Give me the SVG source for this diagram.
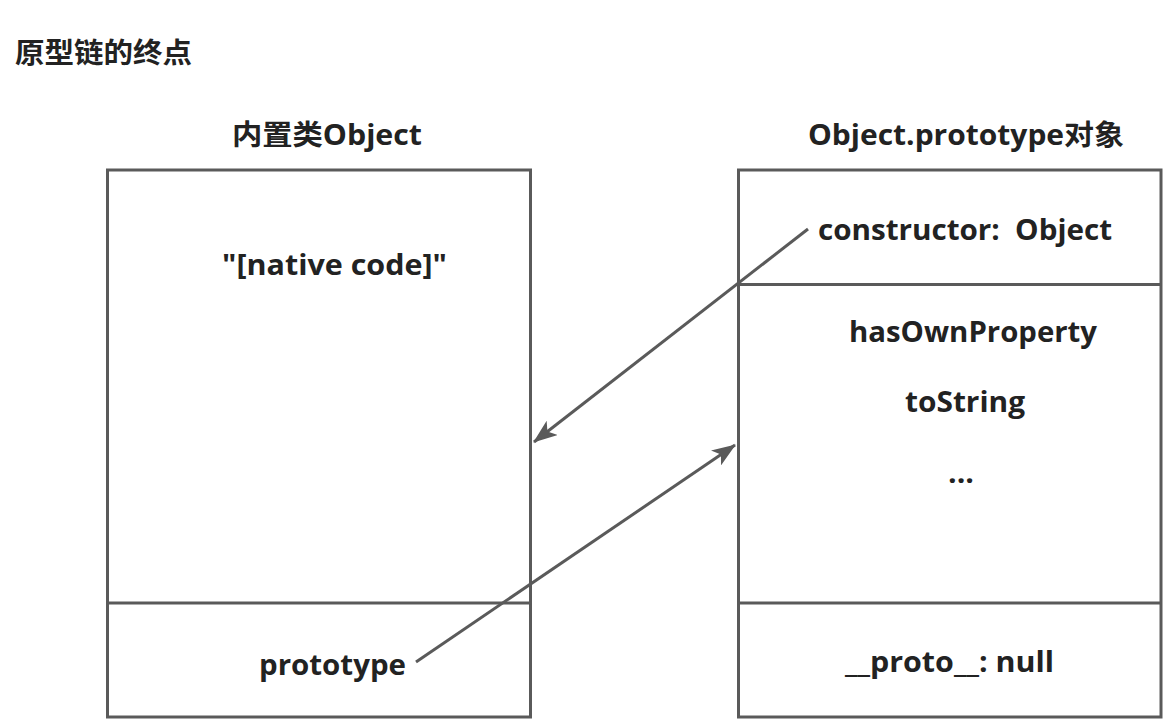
<svg xmlns="http://www.w3.org/2000/svg" width="1174" height="724" viewBox="0 0 1174 724">
<style>
.box{fill:none;stroke:#5a5a5a;stroke-width:3}
.t{font-family:"Open Sans","Noto Sans CJK SC","Liberation Sans",sans-serif;font-weight:bold;fill:#222;font-size:28px}
.c{stroke:#5a5a5a;stroke-width:3;fill:none}
</style>
<defs>
<marker id="ah" viewBox="0 0 24 18" refX="23" refY="9" markerWidth="24" markerHeight="18" markerUnits="userSpaceOnUse" orient="auto">
<path d="M0,0 L24,9 L0,18 L6,9 Z" fill="#5a5a5a"/>
</marker>
</defs>
<rect width="1174" height="724" fill="#fff"/>
<text class="t" x="15" y="63" textLength="177" lengthAdjust="spacingAndGlyphs">原型链的终点</text>
<g id="object-class">
<text class="t" x="232" y="145" textLength="190" lengthAdjust="spacingAndGlyphs">内置类Object</text>
<rect class="box" x="107.5" y="170" width="423" height="547"/>
<line class="box" x1="107.5" y1="603" x2="530.5" y2="603"/>
<text class="t" x="222" y="275" textLength="225" lengthAdjust="spacingAndGlyphs">"[native code]"</text>
<text class="t" x="259" y="675" textLength="147" lengthAdjust="spacingAndGlyphs">prototype</text>
</g>
<g id="object-prototype">
<text class="t" x="808" y="145" textLength="316" lengthAdjust="spacingAndGlyphs">Object.prototype对象</text>
<rect class="box" x="738.5" y="170" width="422.5" height="547"/>
<line class="box" x1="738.5" y1="284.5" x2="1161" y2="284.5"/>
<line class="box" x1="738.5" y1="603" x2="1161" y2="603"/>
<text class="t" x="818" y="240" textLength="294" lengthAdjust="spacingAndGlyphs" xml:space="preserve">constructor:  Object</text>
<text class="t" x="849" y="342" textLength="248" lengthAdjust="spacingAndGlyphs">hasOwnProperty</text>
<text class="t" x="905" y="412" textLength="120" lengthAdjust="spacingAndGlyphs">toString</text>
<text class="t" x="948" y="483" textLength="26" lengthAdjust="spacingAndGlyphs">...</text>
<text class="t" x="845" y="672" textLength="209" lengthAdjust="spacingAndGlyphs">__proto__: null</text>
</g>
<g id="connectors">
<line class="c" x1="808" y1="229" x2="534" y2="442" marker-end="url(#ah)"/>
<line class="c" x1="416" y1="662" x2="735" y2="445" marker-end="url(#ah)"/>
</g>
</svg>
